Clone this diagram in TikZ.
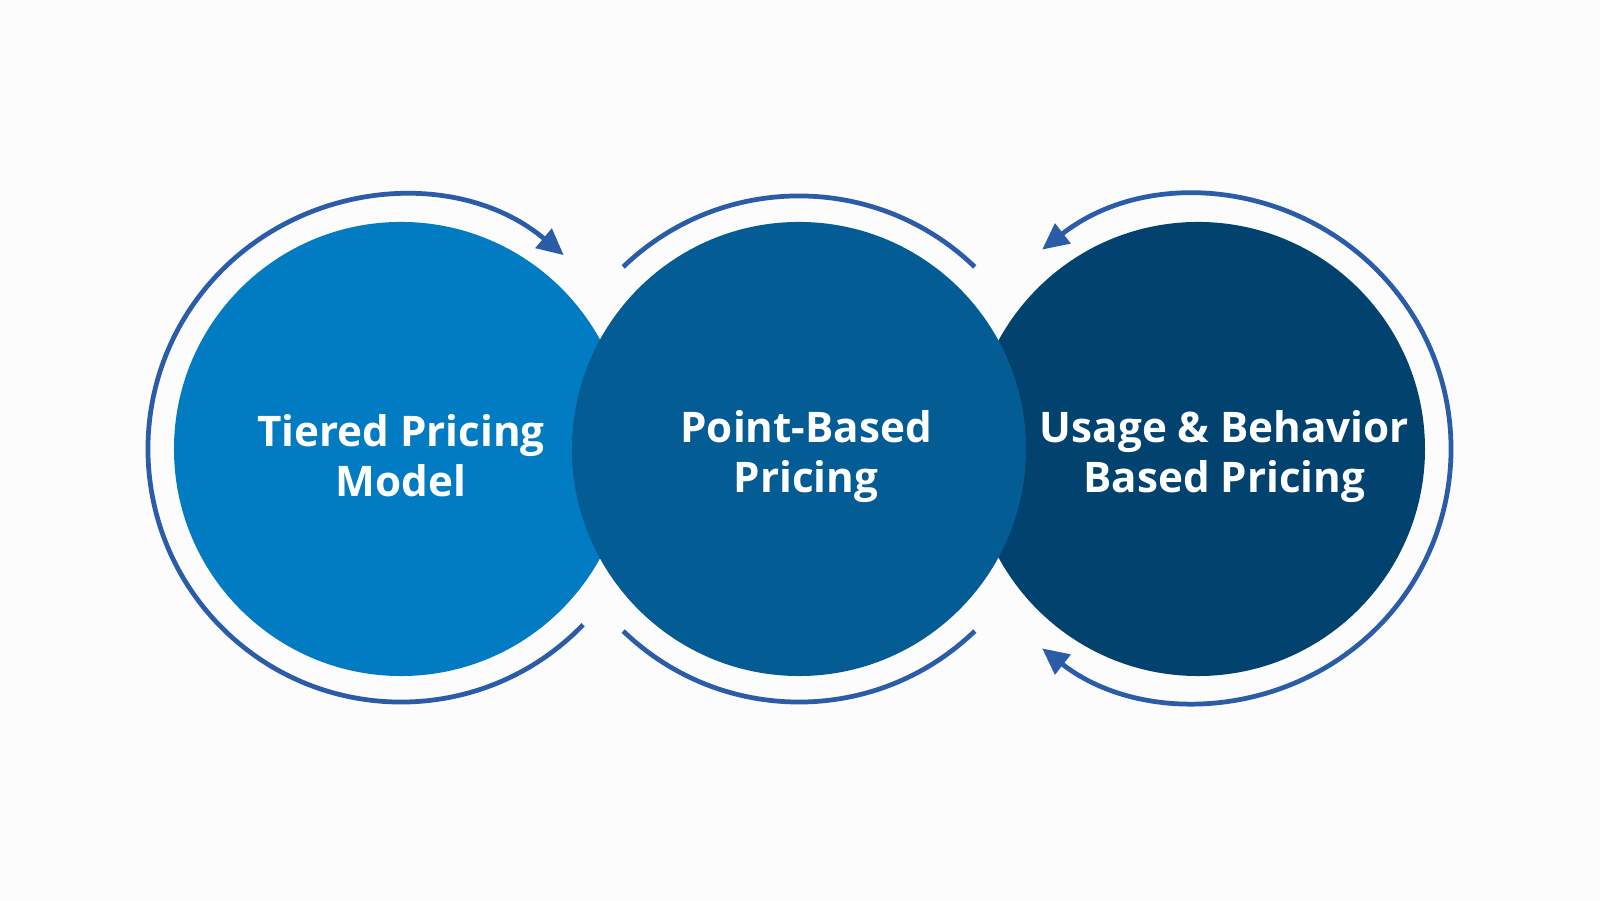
\documentclass[tikz,border=0pt]{standalone}
\usepackage{fontspec}
\setmainfont{Open Sans}
\usetikzlibrary{arrows.meta}
\definecolor{bg}{HTML}{FCFCFC}
\definecolor{cA}{HTML}{017BC2}
\definecolor{cB}{HTML}{035C94}
\definecolor{cC}{HTML}{01426E}
\definecolor{ring}{HTML}{2B5CA8}
\tikzset{
  disc/.style={circle,minimum size=445*0.02041cm,inner sep=0pt},
  lbl/.style={text=white,font=\fontsize{24}{28.5}\selectfont\bfseries,align=center},
  ringline/.style={draw=ring,line width=2.7pt},
  tip/.style={-{Triangle[length=15pt,width=14pt]}}
}
\begin{document}
\begin{tikzpicture}[x=0.02041cm,y=-0.02041cm]
\fill[bg] (0,0) rectangle (1568,882);
\useasboundingbox (0,0) rectangle (1568,882);
\node[disc,fill=cA] (A) at (393,440) {};
\node[disc,fill=cC] (C) at (1174,440) {};
\node[disc,fill=cB] (B) at (783,440) {};
\node[lbl] (tA) at (393,447) {Tiered Pricing\\Model};
\node[lbl] (tB) at (790,447) {Point-Based\\Pricing};
\node[lbl] (tC) at (1200,447) {Usage \& Behavior\\Based Pricing};
\draw[ringline,tip] ([shift={(44:248)}]A.center) arc[start angle=44,end angle=310,radius=248];
\draw[ringline] ([shift={(-46:248)}]B.center) arc[start angle=-46,end angle=-134,radius=248];
\draw[ringline] ([shift={(46:248)}]B.center) arc[start angle=46,end angle=134,radius=248];
\draw[ringline,{Triangle[length=15pt,width=14pt]}-{Triangle[length=15pt,width=14pt]}] ([shift={(-128:248)}]C.center) arc[start angle=-128,end angle=128,radius=248];
\end{tikzpicture}
\end{document}
